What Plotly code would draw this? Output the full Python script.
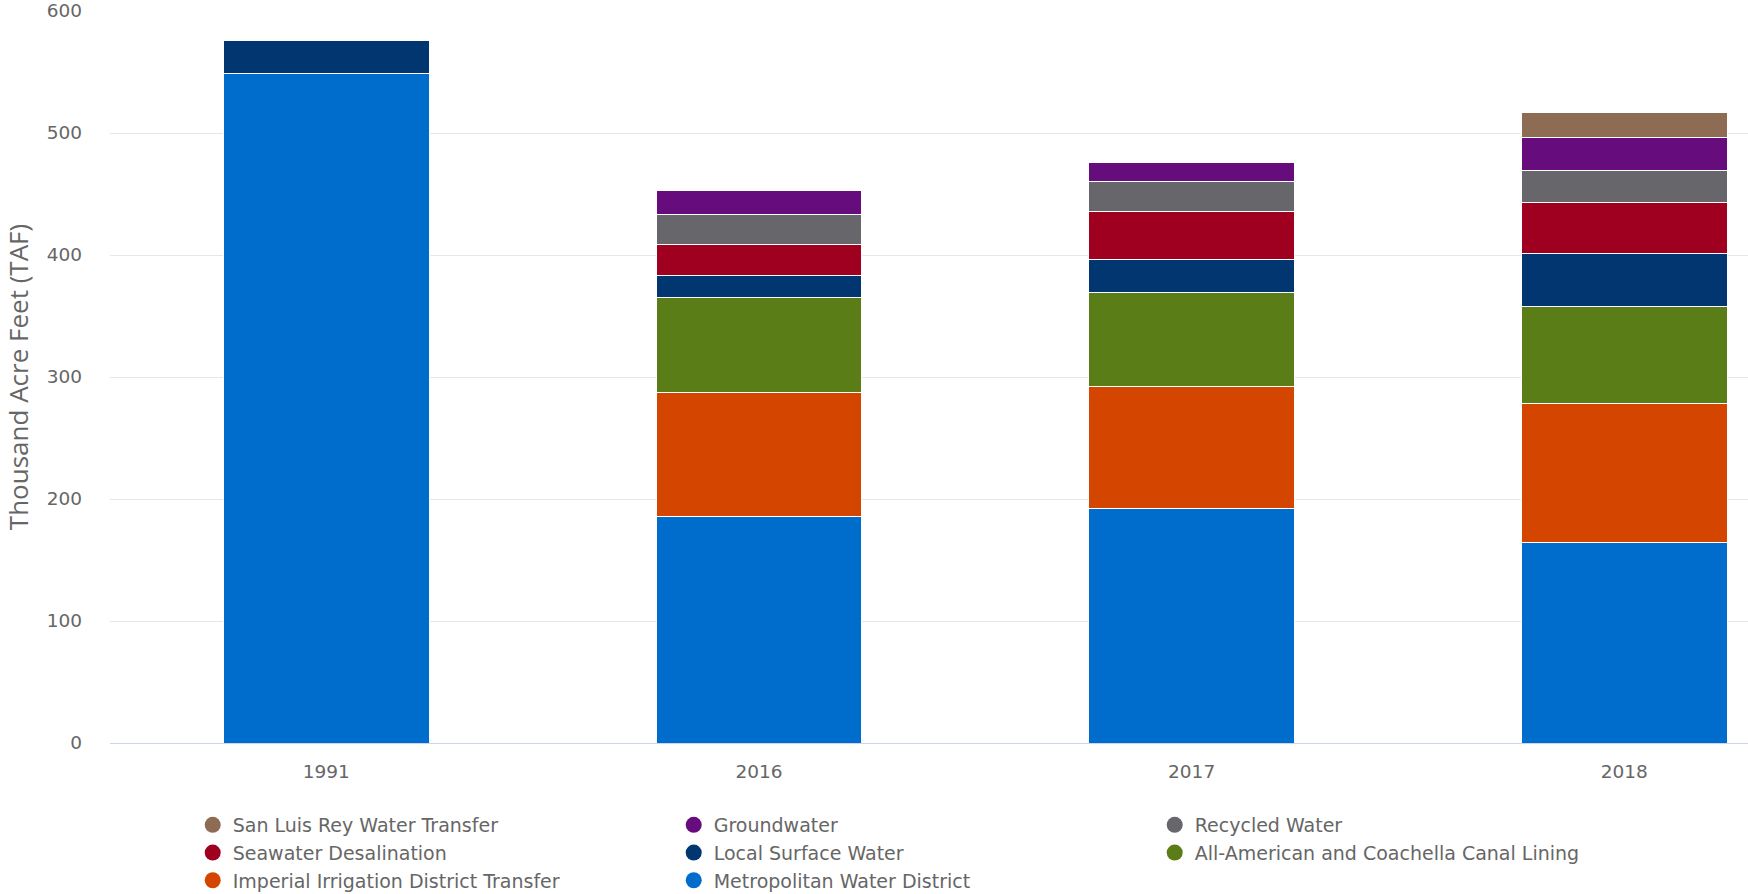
import plotly.graph_objects as go

# Categories (years) and supply sources, bottom of the stack first
years = ["1991", "2016", "2017", "2018"]

metropolitan = [549, 186, 192, 164]
imperial_transfer = [None, 101, 100, 114]
canal_lining = [None, 78, 77, 80]
local_surface = [27, 18, 27, 43]
desalination = [None, 26, 40, 42]
recycled = [None, 24, 24, 26]
groundwater = [None, 20, 16, 27]
san_luis_rey = [None, None, None, 21]

series = [
    ("Metropolitan Water District", metropolitan, "#006dcc"),
    ("Imperial Irrigation District Transfer", imperial_transfer, "#d44500"),
    ("All-American and Coachella Canal Lining", canal_lining, "#5a7d18"),
    ("Local Surface Water", local_surface, "#013671"),
    ("Seawater Desalination", desalination, "#a00020"),
    ("Recycled Water", recycled, "#67666a"),
    ("Groundwater", groundwater, "#660c7d"),
    ("San Luis Rey Water Transfer", san_luis_rey, "#8e6b53"),
]

fig = go.Figure()

for name, values, color in series:
    fig.add_trace(go.Bar(
        x=years, y=values, name=name, width=0.475,
        marker=dict(color=color, line=dict(color="white", width=1)),
        showlegend=False,
    ))

# Legend entries with round swatches, listed top of the stack first
for name, values, color in reversed(series):
    fig.add_trace(go.Scatter(
        x=[None], y=[None], mode="markers", name=name,
        marker=dict(color=color, size=16, symbol="circle"),
    ))

fig.update_layout(
    width=1748, height=894,
    margin=dict(l=110, r=0, t=11, b=151),
    paper_bgcolor="white", plot_bgcolor="white",
    barmode="stack",
    font=dict(family="DejaVu Sans, sans-serif", color="#666666"),
    xaxis=dict(
        type="category", range=[-0.5, 3.286],
        showgrid=False, showline=True, linecolor="#ccd6eb", linewidth=1,
        ticks="", tickfont=dict(size=18.5, color="#666666"),
        ticklabelstandoff=12, zeroline=False, automargin=False,
    ),
    yaxis=dict(
        range=[0, 600], dtick=100, showgrid=True, gridcolor="#e6e6e6",
        gridwidth=1, zeroline=False, showline=False, ticks="",
        tickfont=dict(size=18.5, color="#666666"), ticklabelstandoff=27,
        title=dict(text="Thousand Acre Feet (TAF)", standoff=11,
                   font=dict(size=26, color="#666666",
                             family="Open Sans, DejaVu Sans, sans-serif")),
        automargin=False,
    ),
    legend=dict(
        orientation="h", traceorder="normal",
        x=0.0505, xanchor="left", xref="paper",
        y=1 - 806 / 894, yanchor="top", yref="container",
        entrywidth=436, entrywidthmode="pixels",
        font=dict(size=19, color="#666666", family="DejaVu Sans, sans-serif"),
        bgcolor="rgba(0,0,0,0)", itemclick=False, tracegroupgap=0,
    ),
)

fig.write_html("out.html")
